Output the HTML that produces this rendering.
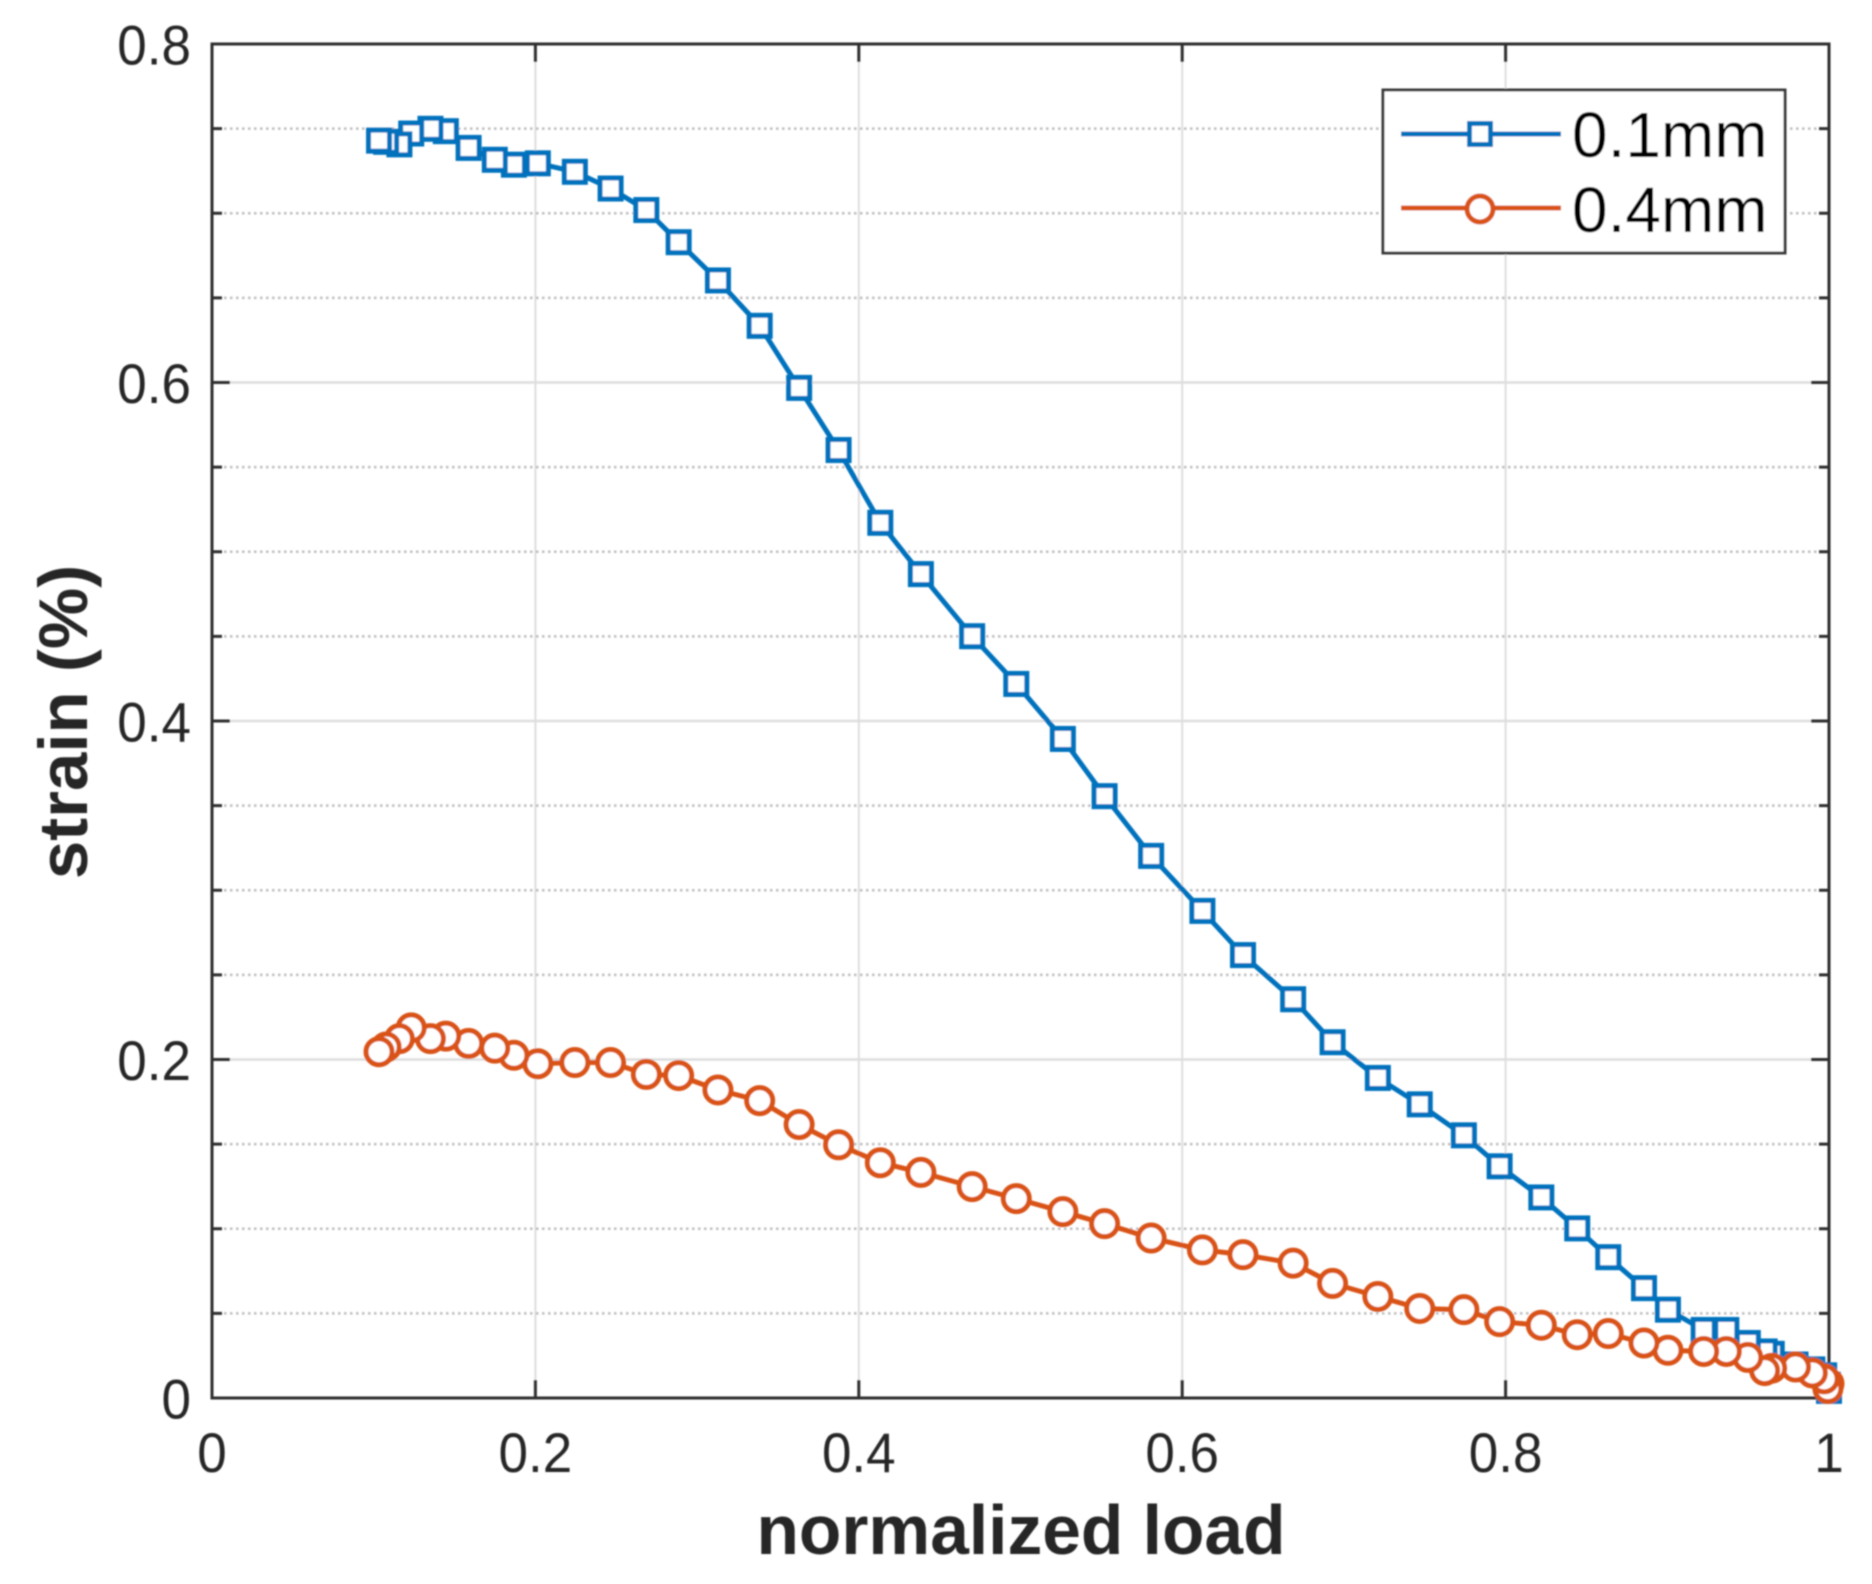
<!DOCTYPE html>
<html lang="en">
<head>
<meta charset="utf-8">
<title>strain vs normalized load</title>
<style>
html,body{margin:0;padding:0;background:#fff;}
svg{display:block;font-family:"Liberation Sans",sans-serif;}
</style>
</head>
<body>
<svg id="chart" xmlns="http://www.w3.org/2000/svg" width="1872" height="1584" viewBox="0 0 1872 1584">
  <defs>
    <filter id="soft" x="-5%" y="-5%" width="110%" height="110%"><feGaussianBlur stdDeviation="0.8"/></filter>
  </defs>
  <rect x="0" y="0" width="1872" height="1584" fill="#fff"/>
  <g id="root" filter="url(#soft)">
    <g id="grid"></g>
    <g id="frame"></g>
    <g id="plot"></g>
    <g id="ticklabels" font-size="55.5" fill="#262626"></g>
    <text x="1021" y="1554" font-size="69.5" font-weight="bold" fill="#262626" text-anchor="middle">normalized load</text>
    <text transform="translate(87,722) rotate(-90)" font-size="69" font-weight="bold" fill="#262626" text-anchor="middle">strain (%)</text>
    <g>
      <rect x="1383" y="90" width="402" height="163" fill="#fff" stroke="#3a3a3a" stroke-width="3"/>
      <g>
        <line x1="1401" y1="134" x2="1561" y2="134" stroke="#0072BD" stroke-width="5"/>
        <rect x="1469.5" y="123.5" width="21" height="21" fill="#fff" stroke="#0072BD" stroke-width="5"/>
        <text x="1572" y="157" font-size="64" fill="#000">0.1mm</text>
      </g>
      <g>
        <line x1="1401" y1="208" x2="1561" y2="208" stroke="#D95319" stroke-width="5"/>
        <circle cx="1480" cy="209" r="13" fill="#fff" stroke="#D95319" stroke-width="5"/>
        <text x="1572" y="232" font-size="64" fill="#000">0.4mm</text>
      </g>
    </g>
  </g>
</svg>
<script>
const loads = [0.1033,0.1077,0.1159,0.1232,0.1351,0.1446,0.1587,0.1749,0.1867,0.2015,0.2244,0.2465,0.2686,0.2886,0.3129,0.3387,0.3631,0.3875,0.4133,0.4384,0.4701,0.4974,0.5262,0.5520,0.5808,0.6125,0.6376,0.6686,0.6930,0.7210,0.7469,0.7742,0.7963,0.8221,0.8443,0.8635,0.8856,0.9004,0.9225,0.9365,0.9498,0.9602,0.9646,0.9793,0.9897,0.9970,0.9993,1.0000];
const strain01 = [0.7429,0.7422,0.7407,0.7471,0.7499,0.7485,0.7386,0.7316,0.7287,0.7295,0.7245,0.7146,0.7019,0.6829,0.6603,0.6335,0.5968,0.5601,0.5171,0.4868,0.4501,0.4219,0.3894,0.3556,0.3203,0.2878,0.2617,0.2356,0.2102,0.1891,0.1735,0.1552,0.1369,0.1185,0.1002,0.0832,0.0649,0.0522,0.0402,0.0402,0.0325,0.0275,0.0261,0.0198,0.0169,0.0134,0.0078,0.0042];
const strain04 = [0.2046,0.2074,0.2123,0.2187,0.2123,0.2138,0.2095,0.2067,0.2025,0.1975,0.1982,0.1982,0.1912,0.1905,0.1820,0.1757,0.1616,0.1496,0.1390,0.1333,0.1249,0.1178,0.1101,0.1030,0.0945,0.0875,0.0847,0.0797,0.0677,0.0600,0.0529,0.0522,0.0451,0.0430,0.0374,0.0381,0.0325,0.0282,0.0275,0.0275,0.0240,0.0162,0.0176,0.0183,0.0148,0.0113,0.0056,0.0085];
const xTicks = [0,0.2,0.4,0.6,0.8,1];
const xTickLabels = ["0","0.2","0.4","0.6","0.8","1"];
const yTicks = [0,0.2,0.4,0.6,0.8];
const yTickLabels = ["0","0.2","0.4","0.6","0.8"];
const yMinorTicks = [0.05,0.1,0.15,0.25,0.3,0.35,0.45,0.5,0.55,0.65,0.7,0.75];

const NS = "http://www.w3.org/2000/svg";
const LEFT = 212, RIGHT = 1829, TOP = 44, BOTTOM = 1398;
const xScale = v => LEFT + (v - 0) / 1 * (RIGHT - LEFT);
const yScale = v => BOTTOM - (v - 0) / 0.8 * (BOTTOM - TOP);

function mk(tag, parent, attrs) {
  const el = document.createElementNS(NS, tag);
  for (const k in attrs) el.setAttribute(k, attrs[k]);
  parent.appendChild(el);
  return el;
}

function squeeze(el) {
  el.setAttribute("textLength", (el.getComputedTextLength() * 0.955).toFixed(1));
  el.setAttribute("lengthAdjust", "spacingAndGlyphs");
}

const grid = document.getElementById("grid");
const frame = document.getElementById("frame");
const plot = document.getElementById("plot");
const tl = document.getElementById("ticklabels");

xTicks.forEach((v, i) => {
  if (v > 0 && v < 1) {
    const g = mk("line", grid, {x1: xScale(v), x2: xScale(v), y1: TOP, y2: BOTTOM, stroke: "#dedede", "stroke-width": 2});
    
    
    const t1 = mk("line", frame, {x1: xScale(v), x2: xScale(v), y1: BOTTOM, y2: BOTTOM - 18, stroke: "#2e2e2e", "stroke-width": 3});
    
    
    const t2 = mk("line", frame, {x1: xScale(v), x2: xScale(v), y1: TOP, y2: TOP + 18, stroke: "#2e2e2e", "stroke-width": 3});
    
    
  }
  const lab = mk("text", tl, {x: xScale(v), y: 1472, "text-anchor": "middle"});
  lab.textContent = xTickLabels[i];
  
  
  squeeze(lab);
});

yTicks.forEach((v, i) => {
  if (v > 0 && v < 0.8) {
    const g = mk("line", grid, {x1: LEFT, x2: RIGHT, y1: yScale(v), y2: yScale(v), stroke: "#dedede", "stroke-width": 2.5});
    
    
    const t1 = mk("line", frame, {x1: LEFT, x2: LEFT + 18, y1: yScale(v), y2: yScale(v), stroke: "#2e2e2e", "stroke-width": 3});
    
    
    const t2 = mk("line", frame, {x1: RIGHT, x2: RIGHT - 18, y1: yScale(v), y2: yScale(v), stroke: "#2e2e2e", "stroke-width": 3});
    
    
  }
  const lab = mk("text", tl, {x: 191, y: yScale(v) + 20.5, "text-anchor": "end"});
  lab.textContent = yTickLabels[i];
  
  
  squeeze(lab);
});

yMinorTicks.forEach(v => {
  const g = mk("line", grid, {x1: LEFT, x2: RIGHT, y1: yScale(v), y2: yScale(v), stroke: "#bdbdbd", "stroke-width": 2.5, "stroke-dasharray": "2.5 3.5"});
  
  
  const t1 = mk("line", frame, {x1: LEFT, x2: LEFT + 10, y1: yScale(v), y2: yScale(v), stroke: "#2e2e2e", "stroke-width": 3});
  
  
  const t2 = mk("line", frame, {x1: RIGHT, x2: RIGHT - 10, y1: yScale(v), y2: yScale(v), stroke: "#2e2e2e", "stroke-width": 3});
  
  
});

const box = mk("rect", frame, {x: LEFT, y: TOP, width: RIGHT - LEFT, height: BOTTOM - TOP, fill: "none", stroke: "#2e2e2e", "stroke-width": 3});



function linePoints(ys) {
  return ys.map((y, i) => xScale(loads[i]).toFixed(1) + "," + yScale(y).toFixed(1)).join(" ");
}

const line01 = mk("polyline", plot, {points: linePoints(strain01), fill: "none", stroke: "#0072BD", "stroke-width": 5, "stroke-linejoin": "round"});


for (let i = strain01.length - 1; i >= 0; i--) {
  const m = mk("rect", plot, {x: xScale(loads[i]) - 10.5, y: yScale(strain01[i]) - 10.5, width: 21, height: 21, fill: "#fff", stroke: "#0072BD", "stroke-width": 5});
  
  
}

const line04 = mk("polyline", plot, {points: linePoints(strain04), fill: "none", stroke: "#D95319", "stroke-width": 5, "stroke-linejoin": "round"});


for (let i = strain04.length - 1; i >= 0; i--) {
  const m = mk("circle", plot, {cx: xScale(loads[i]), cy: yScale(strain04[i]), r: 13, fill: "#fff", stroke: "#D95319", "stroke-width": 5});
  
  
}
</script>
</body>
</html>
